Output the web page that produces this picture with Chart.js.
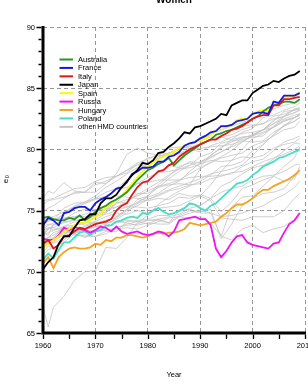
<!DOCTYPE html>
<html>
<head>
<meta charset="utf-8">
<script src="https://cdn.jsdelivr.net/npm/chart.js@4/dist/chart.umd.min.js"></script>
<style>
  html, body { margin: 0; padding: 0; overflow: hidden; background: #fff; }
  #wrap { width: 320px; height: 391px; }
</style>
</head>
<body>
<div id="wrap"><canvas id="chart" width="320" height="391"></canvas></div>
<script>
// years 1960-2009 for the highlighted countries
const years = [];
for (let yr = 1960; yr <= 2009; yr++) years.push(yr);

// the grey countries are read every second year (plus 1961 and 2009)
const grayYears = [1960, 1961, 1962, 1964, 1966, 1968, 1970, 1972, 1974, 1976, 1978, 1980, 1982,
  1984, 1986, 1988, 1990, 1992, 1994, 1996, 1998, 2000, 2002, 2004, 2006, 2008, 2009];

const yTicks = [65, 70, 75, 80, 85, 90];
const xTicks = [1960, 1970, 1980, 1990, 2000, 2010];

const australia = [
  74.4, 74.5, 74.3, 74.2, 74.2, 74.4, 74.3, 74.6, 74.2, 74.5,
  74.9, 75.2, 75.4, 75.7, 75.9, 76.2, 76.5, 77.0, 77.5, 77.9,
  78.3, 78.5, 78.8, 79.0, 79.3, 78.7, 79.1, 79.5, 79.8, 80.1,
  80.4, 80.6, 80.8, 81.2, 81.3, 81.5, 81.6, 81.8, 82.0, 82.2,
  82.5, 82.7, 83.1, 83.4, 83.6, 83.7, 83.9, 83.9, 83.8, 84.1];
const france = [
  73.8, 74.4, 74.2, 73.8, 74.8, 74.9, 75.2, 75.3, 75.3, 75.0,
  75.6, 75.9, 76.1, 76.4, 76.8, 76.9, 77.3, 78.0, 78.2, 78.5,
  78.5, 78.6, 79.0, 79.0, 79.4, 79.5, 79.8, 80.3, 80.5, 80.6,
  80.9, 81.1, 81.4, 81.5, 81.9, 81.9, 82.0, 82.3, 82.4, 82.5,
  82.9, 83.0, 83.0, 82.9, 83.9, 83.8, 84.4, 84.4, 84.4, 84.6];
const italy = [
  72.3, 72.6, 71.9, 72.2, 72.9, 73.0, 73.3, 73.6, 73.5, 73.7,
  73.9, 74.0, 74.1, 74.3, 75.0, 75.4, 75.6, 76.3, 76.9, 77.3,
  77.4, 77.8, 78.2, 78.3, 78.7, 78.9, 79.4, 79.7, 80.0, 80.2,
  80.4, 80.6, 80.8, 80.8, 81.1, 81.3, 81.6, 81.7, 81.9, 82.2,
  82.5, 82.7, 82.8, 82.8, 83.6, 83.6, 84.1, 84.1, 84.2, 84.3];
const japan = [
  70.2, 70.8, 71.2, 72.3, 72.9, 72.9, 73.6, 74.2, 74.3, 74.7,
  74.7, 75.6, 76.0, 76.0, 76.3, 76.9, 77.4, 77.9, 78.3, 78.9,
  78.8, 79.1, 79.7, 79.8, 80.2, 80.5, 80.9, 81.4, 81.3, 81.8,
  81.9, 82.1, 82.3, 82.5, 82.9, 82.8, 83.6, 83.8, 84.0, 84.0,
  84.6, 84.9, 85.2, 85.3, 85.6, 85.5, 85.8, 86.0, 86.1, 86.4];
const spain = [
  71.9, 72.3, 72.6, 72.9, 73.3, 73.5, 73.8, 74.0, 74.0, 74.2,
  74.5, 74.7, 75.3, 75.5, 75.9, 76.2, 76.7, 77.2, 77.7, 78.2,
  78.6, 78.9, 79.2, 79.4, 79.6, 79.8, 80.1, 80.3, 80.5, 80.6,
  80.7, 80.9, 81.2, 81.5, 81.8, 81.8, 82.0, 82.4, 82.5, 82.5,
  82.9, 83.1, 83.2, 83.1, 83.7, 83.7, 84.3, 84.3, 84.4, 84.7];
const russia = [
  72.7, 72.6, 72.6, 73.0, 73.6, 73.4, 73.7, 73.5, 73.4, 73.2,
  73.4, 73.7, 73.6, 73.3, 73.7, 73.3, 73.1, 73.2, 73.3, 73.1,
  73.0, 73.1, 73.3, 73.2, 72.9, 73.3, 74.2, 74.3, 74.4, 74.5,
  74.3, 74.3, 73.8, 71.9, 71.2, 71.7, 72.4, 72.9, 73.0, 72.4,
  72.2, 72.1, 72.0, 71.9, 72.3, 72.4, 73.2, 73.9, 74.2, 74.8];
const hungary = [
  70.7, 71.2, 70.3, 71.2, 71.6, 71.9, 72.0, 71.9, 71.9, 72.0,
  72.3, 72.2, 72.6, 72.5, 72.8, 72.8, 73.0, 73.0, 72.9, 72.8,
  72.9, 73.1, 73.2, 73.1, 73.2, 73.2, 73.3, 73.5, 74.0, 73.9,
  73.8, 73.9, 74.0, 74.1, 74.5, 74.8, 75.2, 75.5, 75.5, 75.7,
  76.0, 76.4, 76.7, 76.7, 77.0, 77.2, 77.4, 77.6, 77.9, 78.3];
const poland = [
  71.0, 71.5, 71.1, 71.8, 72.4, 72.4, 72.8, 73.2, 73.3, 73.0,
  73.3, 73.4, 73.8, 73.8, 74.1, 74.2, 74.4, 74.5, 74.4, 74.8,
  74.7, 75.0, 75.2, 74.9, 74.7, 74.8, 75.0, 75.2, 75.6, 75.5,
  75.2, 75.0, 75.4, 75.6, 76.0, 76.4, 76.8, 77.2, 77.3, 77.5,
  77.9, 78.2, 78.6, 78.8, 79.0, 79.3, 79.4, 79.6, 79.8, 80.0];

// other HMD countries (grey), values at grayYears
const sweden = [74.9, 75.2, 75.4, 76.0, 76.5, 76.5, 77.1, 77.4, 77.8, 78.1, 78.8, 78.8, 79.4, 79.7, 80.1, 80.2, 80.4, 80.8, 81.4, 81.6, 81.9, 82.0, 82.1, 82.7, 82.9, 83.2, 83.3];
const norway = [75.8, 75.9, 76.0, 76.4, 76.8, 76.9, 77.4, 77.7, 77.8, 78.3, 78.7, 79.3, 79.5, 79.5, 79.7, 80.0, 79.8, 80.3, 80.6, 81.0, 81.3, 81.4, 81.6, 82.4, 82.7, 83.0, 83.2];
const netherlands = [75.5, 75.8, 75.9, 76.1, 76.4, 76.5, 76.5, 77.2, 77.8, 78.3, 78.9, 79.2, 79.6, 79.7, 79.6, 79.9, 80.1, 80.2, 80.3, 80.4, 80.7, 80.6, 80.7, 81.4, 81.9, 82.3, 82.6];
const iceland = [76.0, 76.6, 76.4, 77.3, 76.6, 76.5, 77.3, 77.2, 78.0, 79.6, 80.1, 79.7, 79.5, 80.1, 80.2, 80.1, 80.5, 80.8, 81.0, 80.8, 81.4, 81.7, 82.6, 82.8, 83.2, 83.5, 83.8];
const denmark = [74.4, 74.4, 74.5, 74.9, 75.3, 75.6, 75.9, 76.2, 76.7, 76.9, 77.2, 77.3, 77.5, 77.5, 77.5, 77.7, 77.8, 77.8, 77.9, 78.0, 78.6, 79.0, 79.2, 79.9, 80.6, 80.9, 81.1];
const switzerland = [74.1, 74.5, 74.2, 75.2, 75.6, 75.7, 76.2, 76.9, 77.4, 78.0, 78.5, 78.8, 79.3, 79.6, 80.1, 80.5, 80.8, 81.2, 81.6, 81.9, 82.2, 82.5, 82.8, 83.3, 83.6, 83.8, 83.9];
const englandWales = [73.7, 73.9, 73.8, 74.3, 74.5, 74.7, 75.0, 75.1, 75.6, 75.9, 76.2, 76.6, 77.0, 77.2, 77.5, 78.0, 78.5, 78.9, 79.3, 79.5, 79.7, 80.3, 80.6, 81.1, 81.6, 81.8, 82.3];
const usa = [73.1, 73.6, 73.4, 73.7, 73.8, 74.0, 74.7, 75.1, 75.9, 76.6, 77.2, 77.4, 78.1, 78.2, 78.4, 78.5, 78.8, 79.1, 79.0, 79.1, 79.4, 79.3, 79.5, 80.1, 80.4, 80.6, 80.9];
const canada = [73.9, 74.2, 74.2, 74.7, 75.1, 75.6, 76.0, 76.5, 76.8, 77.5, 78.2, 78.8, 79.2, 79.7, 80.0, 80.3, 80.8, 81.0, 81.0, 81.2, 81.6, 81.9, 82.1, 82.5, 82.7, 83.0, 83.2];
const belgium = [72.9, 73.5, 73.6, 74.1, 74.2, 74.3, 74.6, 74.9, 75.3, 75.7, 76.3, 76.8, 77.3, 77.9, 78.4, 78.7, 79.4, 79.7, 80.5, 80.7, 80.8, 81.0, 81.1, 81.9, 82.4, 82.6, 82.8];
const austria = [71.9, 72.6, 72.6, 73.2, 73.4, 73.4, 73.4, 73.6, 74.5, 75.1, 75.7, 76.1, 76.4, 77.0, 77.4, 78.2, 78.9, 79.3, 79.8, 80.3, 80.9, 81.2, 81.6, 82.1, 82.7, 83.3, 83.2];
const westGermany = [71.9, 72.4, 72.4, 73.1, 73.5, 73.5, 73.7, 73.9, 74.3, 74.8, 75.6, 76.2, 76.9, 77.6, 78.2, 78.7, 79.0, 79.4, 79.8, 80.2, 80.6, 81.2, 81.6, 82.1, 82.5, 82.8, 82.9];
const eastGermany = [72.2, 72.5, 72.8, 73.7, 74.1, 73.8, 74.1, 74.5, 74.8, 74.7, 75.0, 74.8, 75.2, 75.3, 75.4, 75.8, 76.2, 77.1, 78.2, 79.1, 80.0, 80.9, 81.3, 81.8, 82.3, 82.6, 82.8];
const finland = [71.6, 72.1, 71.9, 72.6, 73.3, 73.5, 74.2, 74.8, 75.6, 76.6, 77.2, 77.7, 78.1, 78.7, 78.5, 79.0, 78.9, 79.5, 80.2, 80.6, 81.0, 81.1, 81.6, 82.3, 83.1, 83.2, 83.4];
const newZealand = [73.9, 74.1, 74.3, 74.4, 74.5, 74.5, 74.6, 74.9, 75.6, 75.7, 76.4, 76.4, 76.9, 77.1, 77.2, 77.1, 78.4, 79.0, 79.4, 79.9, 80.6, 81.1, 81.4, 81.8, 82.3, 82.6, 82.8];
const czech = [73.4, 73.6, 73.6, 73.4, 73.1, 72.9, 72.9, 73.1, 73.6, 73.9, 74.1, 73.9, 74.3, 74.5, 74.7, 75.2, 75.4, 76.0, 77.0, 77.4, 78.0, 78.5, 78.7, 79.2, 79.9, 80.5, 80.5];
const slovakia = [72.3, 72.8, 73.2, 73.5, 73.0, 73.0, 72.9, 73.3, 73.3, 74.1, 74.2, 74.3, 74.6, 74.6, 75.0, 75.5, 75.4, 76.0, 76.5, 76.8, 77.0, 77.5, 77.8, 77.9, 78.2, 78.7, 78.8];
const bulgaria = [71.4, 71.8, 72.0, 72.4, 73.1, 72.8, 73.3, 73.4, 73.5, 73.6, 73.5, 73.8, 74.1, 74.4, 74.5, 74.8, 75.0, 74.8, 74.5, 74.6, 74.8, 75.1, 75.4, 75.9, 76.3, 76.9, 77.4];
const estonia = [72.6, 72.8, 72.7, 73.4, 73.1, 73.5, 73.7, 73.6, 74.0, 74.2, 74.1, 74.2, 74.2, 74.0, 74.6, 75.0, 74.8, 74.8, 72.9, 75.3, 76.1, 76.2, 77.0, 77.8, 78.6, 79.3, 80.2];
const latvia = [73.0, 73.2, 73.4, 73.6, 73.4, 73.5, 73.6, 73.4, 73.6, 73.8, 73.9, 74.2, 74.3, 74.0, 75.0, 75.1, 74.9, 75.1, 72.7, 73.9, 75.4, 76.0, 76.4, 76.5, 76.8, 77.8, 78.1];
const lithuania = [73.0, 73.5, 73.8, 74.3, 74.8, 75.1, 75.1, 75.1, 75.3, 75.3, 75.3, 75.2, 75.4, 75.6, 76.1, 76.0, 76.3, 76.0, 74.9, 75.7, 76.8, 77.1, 77.5, 77.8, 77.4, 77.6, 78.6];
const ukraine = [72.5, 72.8, 73.0, 73.5, 73.8, 74.0, 74.0, 74.0, 74.1, 74.0, 73.8, 74.0, 73.9, 73.9, 74.5, 74.4, 74.5, 74.0, 72.9, 72.6, 73.5, 73.8, 73.2, 73.5, 73.7, 74.3, 74.5];
const belarus = [73.5, 73.8, 74.0, 74.8, 75.4, 75.7, 76.0, 76.0, 76.2, 76.1, 76.0, 75.8, 76.0, 75.9, 76.4, 76.2, 76.2, 75.8, 74.4, 74.3, 74.2, 74.5, 74.5, 74.5, 75.0, 76.0, 76.4];
const portugal = [67.1, 65.5, 67.1, 68.0, 69.3, 70.0, 70.1, 72.0, 71.9, 72.8, 74.0, 74.6, 75.5, 76.1, 76.6, 77.0, 77.4, 77.9, 78.6, 78.7, 79.0, 79.9, 80.4, 81.2, 82.0, 82.3, 82.6];
const ireland = [73.2, 73.0, 73.9, 74.0, 74.2, 74.2, 74.6, 74.7, 75.0, 75.3, 75.6, 75.9, 76.3, 76.7, 77.0, 77.3, 77.6, 78.0, 78.2, 78.4, 78.7, 79.5, 80.4, 81.2, 81.9, 82.6, 82.9];
const luxembourg = [72.0, 72.5, 72.3, 72.8, 73.2, 73.4, 73.9, 74.2, 74.5, 75.1, 75.9, 76.2, 77.1, 77.8, 78.6, 78.9, 78.6, 79.5, 80.1, 80.8, 81.0, 81.1, 81.6, 81.8, 82.7, 83.3, 83.4];
const scotland = [72.3, 72.5, 72.7, 73.0, 73.5, 73.7, 74.0, 74.2, 74.4, 75.0, 75.4, 75.9, 76.2, 76.6, 76.8, 77.1, 77.2, 77.6, 77.8, 78.1, 78.2, 78.6, 79.0, 79.3, 79.6, 80.0, 80.3];

const grayCountries = [sweden, norway, netherlands, iceland, denmark, switzerland, englandWales, usa,
  canada, belgium, austria, westGermany, eastGermany, finland, newZealand, czech, slovakia, bulgaria,
  estonia, latvia, lithuania, ukraine, belarus, portugal, ireland, luxembourg, scotland];

// highlighted countries in legend order
const countryNames = ['Australia', 'France', 'Italy', 'Japan', 'Spain', 'Russia', 'Hungary', 'Poland'];
const countryValues = [australia, france, italy, japan, spain, russia, hungary, poland];
const otherLabel = 'other HMD countries';

// styles
const colors = {
  Australia: 'rgb(38,150,38)',
  France: 'rgb(24,24,225)',
  Italy: 'rgb(228,22,22)',
  Japan: 'rgb(0,0,0)',
  Spain: 'rgb(250,250,0)',
  Russia: 'rgb(240,20,240)',
  Hungary: 'rgb(244,164,32)',
  Poland: 'rgb(70,222,200)'
};
const drawOrder = { Japan: 1, France: 2, Italy: 3, Australia: 4, Spain: 5, Russia: 6, Hungary: 7, Poland: 8 };
const grayColor = 'rgb(196,196,196)';
const gridColor = 'rgb(150,150,150)';
const FONT = "'Liberation Sans', Arial, Helvetica, sans-serif";

const datasets = [];
countryNames.forEach((name, k) => {
  datasets.push({
    label: name,
    data: years.map((yr, i) => ({ x: yr, y: countryValues[k][i] })),
    borderColor: colors[name],
    borderWidth: 1.8,
    order: drawOrder[name]
  });
});
grayCountries.forEach(vals => {
  datasets.push({
    label: otherLabel,
    data: grayYears.map((yr, i) => ({ x: yr, y: vals[i] })),
    borderColor: grayColor,
    borderWidth: 0.8,
    order: 20
  });
});

// axes, tick marks, labels, legend and titles
const framePlugin = {
  id: 'frame',
  afterDatasetsDraw(chart) {
    const { ctx, chartArea: a, scales: { x, y } } = chart;
    ctx.save();

    // legend (inside the plot, top left)
    const items = countryNames.map(n => ({ text: n, color: colors[n] }));
    items.push({ text: otherLabel, color: grayColor });
    ctx.font = '7.5px ' + FONT;
    ctx.textAlign = 'left';
    ctx.textBaseline = 'middle';
    items.forEach((it, i) => {
      const ly = 59.5 + i * 8.42;
      ctx.strokeStyle = it.color;
      ctx.lineWidth = 2;
      ctx.beginPath();
      ctx.moveTo(59.5, ly);
      ctx.lineTo(73, ly);
      ctx.stroke();
      ctx.fillStyle = '#000';
      ctx.fillText(it.text, 78, ly + 0.5);
    });

    // thick axis lines
    ctx.strokeStyle = '#000';
    ctx.lineWidth = 3;
    ctx.beginPath();
    ctx.moveTo(a.left, a.top - 1);
    ctx.lineTo(a.left, a.bottom + 1.5);
    ctx.moveTo(a.left - 1.5, a.bottom);
    ctx.lineTo(a.right + 1, a.bottom);
    ctx.stroke();

    // tick marks
    ctx.lineWidth = 1.3;
    ctx.beginPath();
    y.ticks.forEach(t => {
      const py = Math.round(y.getPixelForValue(t.value)) + 0.5;
      const len = t.value % 5 === 0 ? 5 : 3;
      ctx.moveTo(a.left - 1.5, py);
      ctx.lineTo(a.left - 1.5 - len, py);
    });
    x.ticks.forEach(t => {
      const px = Math.round(x.getPixelForValue(t.value)) + 0.5;
      ctx.moveTo(px, a.bottom + 1.5);
      ctx.lineTo(px, a.bottom + 6);
    });
    ctx.stroke();

    // tick labels
    ctx.fillStyle = '#000';
    ctx.font = '7.5px ' + FONT;
    ctx.textAlign = 'right';
    ctx.textBaseline = 'middle';
    yTicks.forEach(v => ctx.fillText(String(v), a.left - 8, y.getPixelForValue(v) + 0.5));
    ctx.textAlign = 'center';
    xTicks.forEach(v => ctx.fillText(String(v), x.getPixelForValue(v), a.bottom + 12.5));

    // axis titles
    ctx.fillText('Year', (a.left + a.right) / 2, 375);
    ctx.save();
    ctx.translate(6, 181);
    ctx.rotate(-Math.PI / 2);
    ctx.font = '8px ' + FONT;
    ctx.fillText('e', 0, 0);
    ctx.font = '5.5px ' + FONT;
    ctx.fillText('0', 4.2, 1.8);
    ctx.restore();

    // main title (cut off at the top, as in the original)
    ctx.font = 'bold 10px ' + FONT;
    ctx.textBaseline = 'alphabetic';
    ctx.fillText('Women', (a.left + a.right) / 2, 3);

    ctx.restore();
  }
};

function gridLine(isMajor) {
  return c => (c.tick && isMajor(c.tick.value)) ? gridColor : 'rgba(0,0,0,0)';
}

new Chart(document.getElementById('chart'), {
  type: 'line',
  data: { datasets },
  options: {
    responsive: false,
    animation: false,
    devicePixelRatio: 1,
    layout: { padding: { left: 43, right: 15, top: 27, bottom: 58 } },
    elements: { point: { radius: 0 }, line: { tension: 0 } },
    plugins: { legend: { display: false }, tooltip: { enabled: false } },
    scales: {
      x: {
        type: 'linear', min: 1960, max: 2010,
        ticks: { display: false, stepSize: 5 },
        grid: { drawTicks: false, lineWidth: 1, color: gridLine(v => v % 10 === 0 && v !== 1960) },
        border: { display: false, dash: [4, 3] }
      },
      y: {
        min: 65, max: 90,
        ticks: { display: false, stepSize: 1 },
        grid: { drawTicks: false, lineWidth: 1, color: gridLine(v => v % 5 === 0 && v !== 65) },
        border: { display: false, dash: [4, 3] }
      }
    }
  },
  plugins: [framePlugin]
});
</script>
</body>
</html>
